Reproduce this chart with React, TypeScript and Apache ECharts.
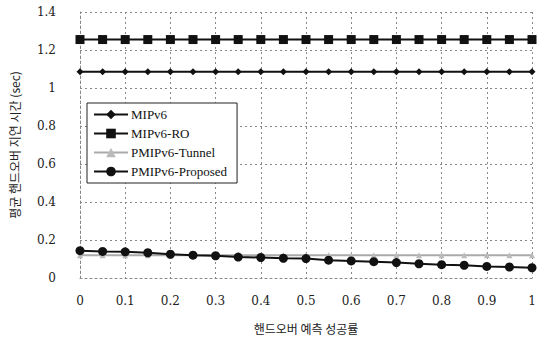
import React, { useEffect, useRef } from "react";
import * as echarts from "echarts";

const xValues = [0, 0.05, 0.1, 0.15, 0.2, 0.25, 0.3, 0.35, 0.4, 0.45, 0.5, 0.55, 0.6, 0.65, 0.7, 0.75, 0.8, 0.85, 0.9, 0.95, 1];
const mipv6 = [1.085, 1.085, 1.085, 1.085, 1.085, 1.085, 1.085, 1.085, 1.085, 1.085, 1.085, 1.085, 1.085, 1.085, 1.085, 1.085, 1.085, 1.085, 1.085, 1.085, 1.085];
const mipv6Ro = [1.255, 1.255, 1.255, 1.255, 1.255, 1.255, 1.255, 1.255, 1.255, 1.255, 1.255, 1.255, 1.255, 1.255, 1.255, 1.255, 1.255, 1.255, 1.255, 1.255, 1.255];
const pmipTunnel = [0.12, 0.12, 0.12, 0.12, 0.12, 0.12, 0.12, 0.12, 0.12, 0.12, 0.12, 0.12, 0.12, 0.12, 0.12, 0.12, 0.12, 0.12, 0.12, 0.12, 0.12];
const pmipProposed = [0.144, 0.14, 0.138, 0.133, 0.125, 0.12, 0.117, 0.11, 0.108, 0.104, 0.102, 0.094, 0.09, 0.086, 0.081, 0.075, 0.07, 0.067, 0.061, 0.058, 0.054];

const seriesNames = ["MIPv6", "MIPv6-RO", "PMIPv6-Tunnel", "PMIPv6-Proposed"];
const xAxisTitle = "핸드오버 예측 성공률";
const yAxisTitle = "평균 핸드오버 지연 시간 (sec)";

const serif = "Liberation Serif";
const tickFont = "DejaVu Serif";
const cjk = "Noto Sans CJK KR";

const pair = (ys: number[]) => xValues.map((x, i) => [x, ys[i]]);

export default function App() {
  const ref = useRef<HTMLDivElement>(null);
  useEffect(() => {
    if (!ref.current) return;
    const chart = echarts.init(ref.current, undefined, { renderer: "svg" });
    const gridLine = { show: true, lineStyle: { color: "#888", type: [2, 3] as any, width: 1 } };
    const tickRich = { t: { fontFamily: tickFont, fontSize: 12, color: "#222" } };
    chart.setOption({
      animation: false,
      backgroundColor: "#fff",
      textStyle: { fontFamily: serif },
      grid: { left: 77, right: 21, top: 12, bottom: 64, show: false },
      legend: {
        orient: "vertical",
        left: 87,
        top: 103,
        padding: [5, 10, 5, 6],
        itemGap: 6,
        itemWidth: 34,
        itemHeight: 12,
        borderColor: "#222",
        borderWidth: 1,
        backgroundColor: "#fff",
        textStyle: { fontFamily: serif, fontSize: 13, color: "#111", padding: [0, 0, 0, -2] },
        data: seriesNames,
      },
      xAxis: {
        type: "value",
        min: 0,
        max: 1,
        interval: 0.1,
        name: xAxisTitle,
        nameLocation: "middle",
        nameGap: 44,
        nameTextStyle: { fontFamily: cjk, fontSize: 12, color: "#222" },
        axisLine: { show: true, lineStyle: { color: "#888", type: [2, 3] as any } },
        axisTick: { show: false },
        axisLabel: { color: "#222", fontSize: 12, margin: 17, fontFamily: tickFont, formatter: "{t|{value}}", rich: tickRich },
        splitLine: gridLine,
      },
      yAxis: {
        type: "value",
        min: 0,
        max: 1.4,
        interval: 0.2,
        name: yAxisTitle,
        nameLocation: "middle",
        nameGap: 60,
        nameTextStyle: { fontFamily: cjk, fontSize: 12, color: "#222" },
        axisLine: { show: true, lineStyle: { color: "#888", type: [2, 3] as any } },
        axisTick: { show: false },
        axisLabel: { color: "#222", fontSize: 12, margin: 24, fontFamily: tickFont, formatter: "{t|{value}}", rich: tickRich },
        splitLine: gridLine,
      },
      series: [
        {
          name: seriesNames[0],
          type: "line",
          data: pair(mipv6),
          symbol: "diamond",
          symbolSize: 7,
          lineStyle: { color: "#111", width: 2 },
          itemStyle: { color: "#111" },
        },
        {
          name: seriesNames[1],
          type: "line",
          data: pair(mipv6Ro),
          symbol: "rect",
          symbolSize: 9,
          lineStyle: { color: "#111", width: 2 },
          itemStyle: { color: "#111" },
        },
        {
          name: seriesNames[2],
          type: "line",
          data: pair(pmipTunnel),
          symbol: "triangle",
          symbolSize: 6,
          lineStyle: { color: "#aaa", width: 2 },
          itemStyle: { color: "#bbb" },
        },
        {
          name: seriesNames[3],
          type: "line",
          data: pair(pmipProposed),
          symbol: "circle",
          symbolSize: 9,
          lineStyle: { color: "#111", width: 2 },
          itemStyle: { color: "#111" },
        },
      ],
    });
    return () => chart.dispose();
  }, []);
  return <div ref={ref} style={{ width: 553, height: 342, position: "absolute", left: 0, top: 0 }} />;
}
